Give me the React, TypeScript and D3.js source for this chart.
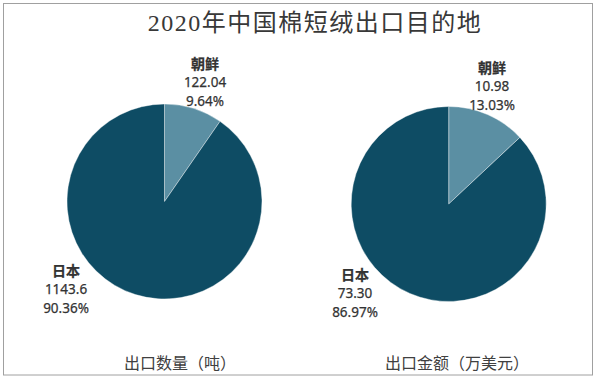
import React from "react";
import * as d3 from "d3";

const title = "2020年中国棉短绒出口目的地";
const categories = ["朝鲜", "日本"];
const quantityValues = [122.04, 1143.6];
const amountValues = [10.98, 73.3];
const quantityLabels = ["122.04", "1143.6"];
const amountLabels = ["10.98", "73.30"];
const subtitles = ["出口数量（吨）", "出口金额（万美元）"];

const colors = ["#5b8fa3", "#0e4c64"];
const W = 599;
const H = 379;

type PieSpec = {
  values: number[];
  labels: string[];
  subtitle: string;
  cx: number;
  cy: number;
  r: number;
  labelOffsets: [number, number][];
  subX: number;
};

const pies: PieSpec[] = [
  {
    values: quantityValues,
    labels: quantityLabels,
    subtitle: subtitles[0],
    cx: 164.5,
    cy: 201.5,
    r: 97.5,
    labelOffsets: [
      [40.5, -114.5],
      [-98.5, 92.5],
    ],
    subX: 180,
  },
  {
    values: amountValues,
    labels: amountLabels,
    subtitle: subtitles[1],
    cx: 448.7,
    cy: 204,
    r: 97.5,
    labelOffsets: [
      [43.3, -113],
      [-93.7, 94],
    ],
    subX: 457,
  },
];

const pct = d3.format(".2%");
const labelFont = "'Noto Sans', 'Noto Sans CJK SC', sans-serif";

function Pie({ spec }: { spec: PieSpec }) {
  const pieGen = d3
    .pie<number>()
    .sort(null)
    .value((d) => d);
  const arcs = pieGen(spec.values);
  const arcGen = d3.arc<d3.PieArcDatum<number>>().innerRadius(0).outerRadius(spec.r);
  const total = d3.sum(spec.values);
  return (
    <g>
      <g transform={`translate(${spec.cx},${spec.cy})`}>
        {arcs.map((a, i) => (
          <path key={i} d={arcGen(a) || ""} fill={colors[i]} stroke="#ffffff" strokeWidth={0.4} />
        ))}
      </g>
      {arcs.map((a, i) => {
        const [dx, dy] = spec.labelOffsets[i];
        const x = spec.cx + dx;
        const y = spec.cy + dy;
        return (
          <text
            key={i}
            x={x}
            y={y}
            textAnchor="middle"
            fontFamily={labelFont}
            fontSize={13.5}
            fill="#333333"
            stroke="#333333"
            strokeWidth={0.25}
          >
            <tspan x={x} dy={-18} fontWeight="bold" fontSize={14} fontFamily="'Noto Sans CJK SC', sans-serif">
              {categories[i]}
            </tspan>
            <tspan x={x} dy={18}>
              {spec.labels[i]}
            </tspan>
            <tspan x={x} dy={19}>
              {pct(a.data / total)}
            </tspan>
          </text>
        );
      })}
      <text
        x={spec.subX}
        y={369}
        textAnchor="middle"
        fontFamily="'Noto Sans CJK SC', sans-serif"
        fontSize={16}
        fill="#404040"
      >
        {spec.subtitle}
      </text>
    </g>
  );
}

export default function App() {
  return (
    <svg
      width={W}
      height={H}
      viewBox={`0 0 ${W} ${H}`}
      style={{ position: "absolute", left: 0, top: 0, background: "#ffffff" }}
    >
      <rect x={0} y={0} width={W} height={H} fill="#ffffff" />
      <rect x={3.5} y={3.5} width={589} height={371.5} fill="none" stroke="#a0a0a0" strokeWidth={1} />
      <text
        x={315}
        y={31}
        textAnchor="middle"
        fontFamily="'Liberation Serif', 'DejaVu Serif', 'Noto Sans CJK SC', serif"
        fontSize={24}
        letterSpacing={1.5}
        fill="#383838"
      >
        {title}
      </text>
      {pies.map((p, i) => (
        <Pie key={i} spec={p} />
      ))}
    </svg>
  );
}
